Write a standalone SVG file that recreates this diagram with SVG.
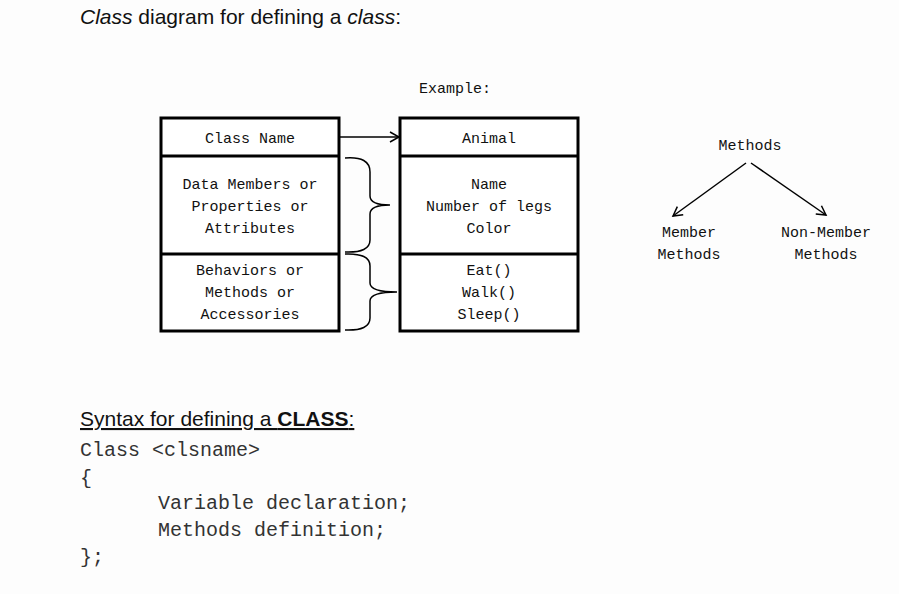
<svg xmlns="http://www.w3.org/2000/svg" width="899" height="594" viewBox="0 0 899 594">
<style>
.t{font-family:"Liberation Sans",Arial,sans-serif;font-size:21px;fill:#111}
.m{font-family:"Liberation Mono","Courier New",monospace;font-size:15px;fill:#111;text-anchor:middle}
.c{font-family:"Liberation Mono","Courier New",monospace;font-size:20px;fill:#333}
.b{fill:#fff;stroke:#000;stroke-width:3}
.l{fill:none;stroke:#000;stroke-width:1.5}
</style>
<defs><marker id="a" markerWidth="12" markerHeight="12" refX="10" refY="6" orient="auto" markerUnits="userSpaceOnUse"><path d="M1,1 L10,6 L1,11" fill="none" stroke="#000" stroke-width="1.5"/></marker></defs>
<rect width="899" height="594" fill="#fdfdfd"/>
<text class="t" x="80" y="24"><tspan font-style="italic">Class</tspan> diagram for defining a <tspan font-style="italic">class</tspan>:</text>
<text class="m" x="455" y="93">Example:</text>
<g id="classTemplate">
<rect class="b" x="161" y="118" width="178" height="213"/>
<line class="b" x1="161" y1="156" x2="339" y2="156"/>
<line class="b" x1="161" y1="254" x2="339" y2="254"/>
<text class="m" x="250" y="143">Class Name</text>
<text class="m" x="250" y="189">Data Members or</text>
<text class="m" x="250" y="211">Properties or</text>
<text class="m" x="250" y="233">Attributes</text>
<text class="m" x="250" y="275">Behaviors or</text>
<text class="m" x="250" y="297">Methods or</text>
<text class="m" x="250" y="319">Accessories</text>
</g>
<g id="animal">
<rect class="b" x="400" y="118" width="178" height="213"/>
<line class="b" x1="400" y1="156" x2="578" y2="156"/>
<line class="b" x1="400" y1="254" x2="578" y2="254"/>
<text class="m" x="489" y="143">Animal</text>
<text class="m" x="489" y="189">Name</text>
<text class="m" x="489" y="211">Number of legs</text>
<text class="m" x="489" y="233">Color</text>
<text class="m" x="489" y="275">Eat()</text>
<text class="m" x="489" y="297">Walk()</text>
<text class="m" x="489" y="319">Sleep()</text>
</g>
<g id="methods">
<text class="m" x="750" y="150">Methods</text>
<text class="m" x="689" y="237">Member</text>
<text class="m" x="689" y="259">Methods</text>
<text class="m" x="826" y="237">Non-Member</text>
<text class="m" x="826" y="259">Methods</text>
</g>
<g id="connectors">
<line class="l" x1="340" y1="137" x2="399" y2="137" marker-end="url(#a)" stroke-width="2"/>
<path class="l" d="M345,158 Q370,156 370,172 L370,196 Q370,205 390,205 Q370,205 370,214 L370,240 Q370,253 345,252"/>
<path class="l" d="M345,254 Q370,253 370,266 L370,283 Q370,292 397,292 Q370,292 370,301 L370,318 Q370,331 345,330"/>
<line class="l" x1="746" y1="163" x2="673" y2="216" marker-end="url(#a)"/>
<line class="l" x1="751" y1="163" x2="826" y2="215" marker-end="url(#a)"/>
</g>
<text class="t" x="80" y="426" text-decoration="underline">Syntax for defining a <tspan font-weight="bold">CLASS</tspan>:</text>
<text class="c" x="80" y="456">Class &lt;clsname&gt;</text>
<text class="c" x="80" y="484">{</text>
<text class="c" x="158" y="509">Variable declaration;</text>
<text class="c" x="158" y="536">Methods definition;</text>
<text class="c" x="80" y="563">};</text>
</svg>
